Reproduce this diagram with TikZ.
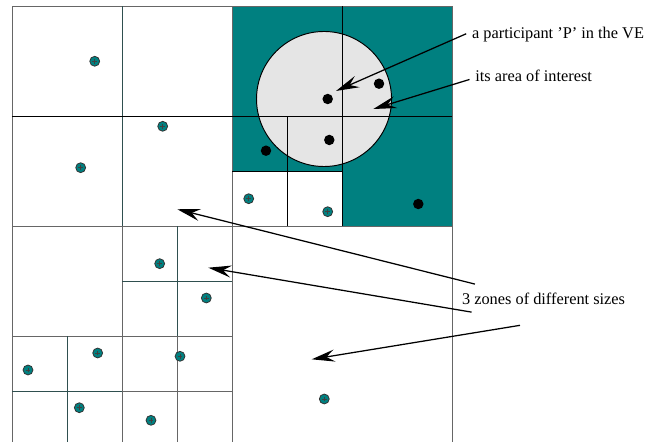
\documentclass[tikz,border=0pt]{standalone}
\usepackage{fontspec}
\setmainfont{Liberation Serif}
\usetikzlibrary{arrows.meta}
\definecolor{aoiteal}{RGB}{0,128,128}
\definecolor{slate}{HTML}{2F4F4F}
\definecolor{zonegray}{HTML}{666666}
\definecolor{aoigray}{HTML}{E5E5E5}

\begin{document}
\begin{tikzpicture}[font=\fontsize{8.45}{10}\selectfont,>={Stealth[length=4.2mm,width=2.2mm,inset=1.5mm]},zone/.style={draw=zonegray, line width=0.5pt},fine/.style={draw=slate, line width=0.5pt},split/.style={draw=black, line width=0.5pt},site/.style={circle, fill=aoiteal, draw=black!80, line width=0.4pt, inner sep=0pt, minimum size=1.8mm, path picture={\draw[black!75, line width=0.25pt] ([xshift=-0.45mm]path picture bounding box.center) -- ([xshift=0.45mm]path picture bounding box.center) ([yshift=-0.45mm]path picture bounding box.center) -- ([yshift=0.45mm]path picture bounding box.center);}},member/.style={circle, fill=black, inner sep=0pt, minimum size=1.9mm},note/.style={anchor=base west, inner sep=1mm},pointer/.style={->, line width=0.65pt}]
\useasboundingbox (-0.218,0.073) rectangle (11.527,8.109);\clip (-0.218,0.073) rectangle (11.527,8.109);
% quadrant holding the participant
\fill[aoiteal] (4,4) rectangle (8,8);\fill[white] (4,4) rectangle (6,5);
\node[circle, draw, fill=aoigray, line width=0.5pt, minimum size=2.455cm, inner sep=0pt] (area) at (5.673,6.309) {};
% zone borders
\draw[zone] (0,0) rectangle (8,8) (4,0) -- (4,8) (0,4) -- (8,4);
\draw[fine] (2,4) -- (2,8);\draw[split] (0,6) -- (4,6);
\draw[split] (6,4) -- (6,8) (4,6) -- (8,6) (5,4) -- (5,6) (4,5) -- (6,5);
\draw[zone] (2,0) -- (2,4) (0,2) -- (4,2) (3,0) -- (3,2) (2,1) -- (4,1);
\draw[fine] (3,2) -- (3,4) (2,3) -- (4,3) (1,0) -- (1,2) (0,1) -- (2,1);
% other participants
\foreach \p [count=\i] in {(1.504,6.995),(2.74,5.813),(1.249,5.06),(4.304,4.496),(5.74,4.26),(2.685,3.315),(3.533,2.691),(1.558,1.691),(0.291,1.382),(3.055,1.631),(1.224,0.696),(2.527,0.467),(5.678,0.855)}\node[site] (s\i) at \p {};
\node[member] (p) at (5.74,6.309) {};
\foreach \p [count=\i] in {(6.673,6.587),(5.769,5.564),(4.618,5.369),(7.387,4.4)}\node[member] (m\i) at \p {};
% labels and pointers
\node[note] (plabel) at (8.258,7.415) {a participant 'P' in the VE};\node[note] (arealabel) at (8.318,6.624) {its area of interest};\node[note] (zones) at (8.076,2.564) {3 zones of different sizes};
\coordinate (ptip) at (5.891,6.455);\coordinate (areatip) at (6.569,6.127);
\coordinate (midtip) at (3.005,4.304);\coordinate (smalltip) at (3.569,3.242);\coordinate (bigtip) at (5.449,1.576);
\draw[pointer] ([yshift=0.8mm]plabel.base west) -- (ptip);\draw[pointer] ([yshift=0.4mm]arealabel.base west) -- (areatip);
\draw[pointer] ([xshift=3.4mm,yshift=3.8mm]zones.base west) -- (midtip);\draw[pointer] ([xshift=2.8mm,yshift=-1.3mm]zones.base west) -- (smalltip);\draw[pointer] ([xshift=11.6mm,yshift=-3.7mm]zones.base west) -- (bigtip);
\end{tikzpicture}
\end{document}
